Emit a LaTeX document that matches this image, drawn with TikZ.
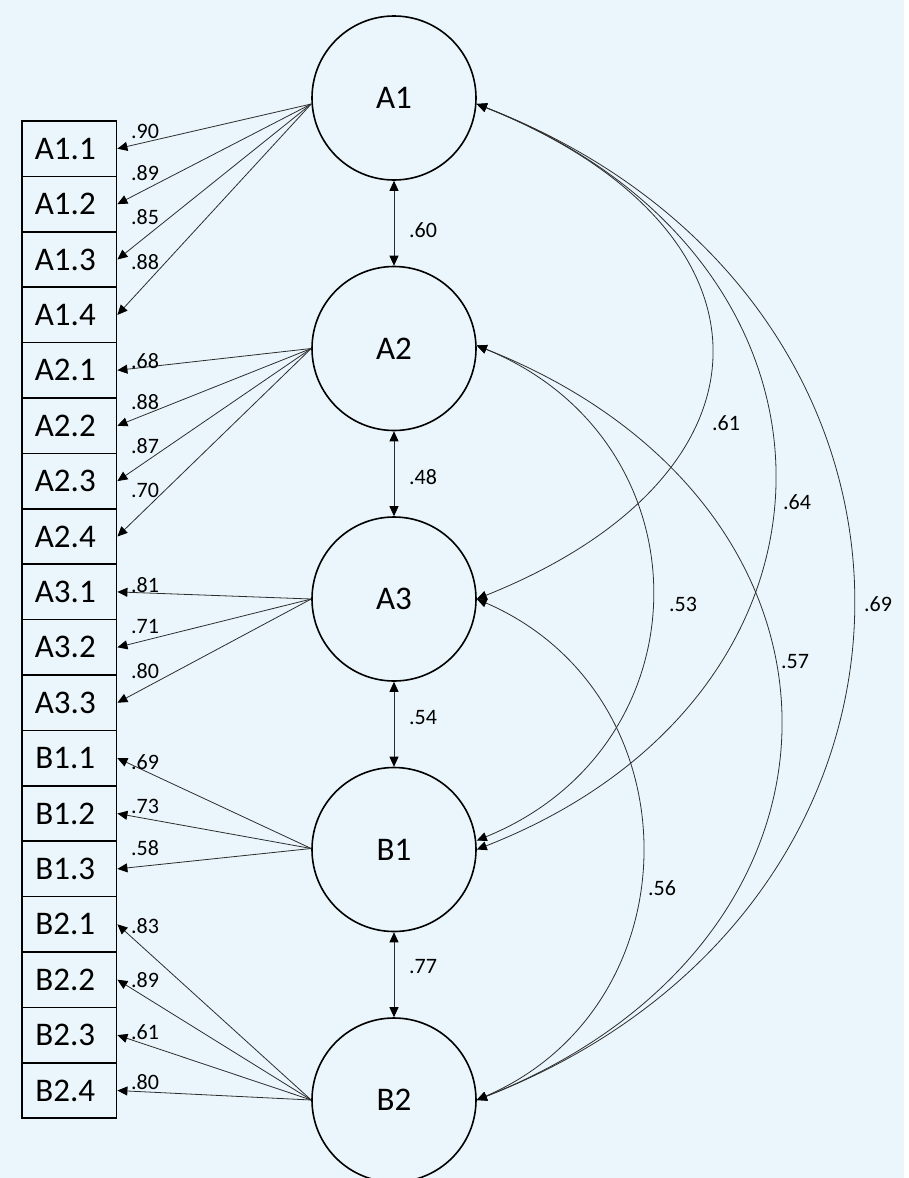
\documentclass[tikz,border=0pt]{standalone}
\usepackage{fontspec}
\setmainfont{Carlito}
\usetikzlibrary{arrows.meta,calc}
\definecolor{bg}{RGB}{234,246,251}
\definecolor{ln}{RGB}{45,45,45}
\begin{document}
\begin{tikzpicture}[x=1pt,y=-1pt,
  lat/.style={circle, draw, line width=1.6pt, minimum size=164pt, inner sep=0pt, font=\fontsize{33}{36}\selectfont},
  ind/.style={rectangle, draw, line width=1.5pt, minimum width=94.7pt, minimum height=55.4pt, inner sep=0pt, font=\fontsize{33}{36}\selectfont},
  tip/.tip={Triangle[length=10pt,width=9pt,color=black]},
  load/.style={draw=ln, line width=0.8pt, -tip},
  corr/.style={draw=ln, line width=0.8pt, tip-tip},
  coef/.style={font=\fontsize{22}{24}\selectfont, inner sep=0pt},
]
\fill[bg] (0,0) rectangle (904,1178);
\useasboundingbox (0,0) rectangle (909,1178);

% latent variables
\node[lat] (A1) at (394,98) {A1};
\node[lat] (A2) at (394,348.5) {A2};
\node[lat] (A3) at (394,599) {A3};
\node[lat] (B1) at (394,849.5) {B1};
\node[lat] (B2) at (394,1100) {B2};

% indicators
\foreach \t [count=\i from 0] in {A1.1,A1.2,A1.3,A1.4,A2.1,A2.2,A2.3,A2.4,A3.1,A3.2,A3.3,B1.1,B1.2,B1.3,B2.1,B2.2,B2.3,B2.4}
  \node[ind] (b\i) at (69.3,{148.7+55.4*\i}) {\t\hspace*{8pt}};

% loading source points
\coordinate (A1w) at ([yshift=-6pt]A1.west);
\coordinate (A2w) at (A2.west);
\coordinate (A3w) at (A3.west);
\coordinate (B1w) at ([yshift=1pt]B1.west);
\coordinate (B2w) at (B2.west);

\foreach \j in {0,...,3} \draw[load] (A1w) -- (b\j.east);
\foreach \j in {4,...,7} \draw[load] (A2w) -- (b\j.east);
\foreach \j in {8,...,10} \draw[load] (A3w) -- (b\j.east);
\foreach \j in {11,...,13} \draw[load] (B1w) -- (b\j.east);
\foreach \j in {14,...,17} \draw[load] (B2w) -- (b\j.east);

% loading labels
\foreach \v/\yy [count=\k from 0] in {.90/131.7,.89/173.3,.85/216.7,.88/261.7,.68/360.7,.88/401.7,.87/446,.70/490,.81/585,.71/626,.80/670.7,.69/761.7,.73/806,.58/848.3,.83/925.7,.89/980,.61/1031.7,.80/1081.7}
  \node[coef] (l\k) at (145,\yy) {\v};

% structural correlations between neighbours
\draw[corr] (A1) -- (A2);
\draw[corr] (A2) -- (A3);
\draw[corr] (A3) -- (B1);
\draw[corr] (B1) -- (B2);
\node[coef, anchor=west] (c12) at (409,230) {.60};
\node[coef, anchor=west] (c23) at (409,477) {.48};
\node[coef, anchor=west] (c34) at (409,718) {.54};
\node[coef, anchor=west] (c45) at (409,967) {.77};

% curved correlations
\coordinate (A1e) at ([yshift=-6pt]A1.east);
\coordinate (A2e) at ([yshift=3pt]A2.east);
\coordinate (A3e) at (A3.east);
\coordinate (B1e1) at ([yshift=9pt]B1.east);
\coordinate (B1e2) at (B1.east);
\coordinate (B2e) at (B2.east);

\draw[corr] (A1e) .. controls +(312,125) and +(312,-125) .. (A3e);
\draw[corr] (A1e) .. controls +(396,155) and +(396,-155) .. (B1e2);
\draw[corr] (A1e) .. controls +(501,195) and +(501,-195) .. (B2e);
\draw[corr] (A2e) .. controls +(233,95) and +(233,-95) .. (B1e1);
\draw[corr] (A2e) .. controls +(404,160) and +(404,-160) .. (B2e);
\draw[corr] (A3e) .. controls +(220,95) and +(220,-95) .. (B2e);

\node[coef] (r61) at (726,423) {.61};
\node[coef] (r64) at (797,502) {.64};
\node[coef] (r69) at (878,604) {.69};
\node[coef] (r53) at (683,604) {.53};
\node[coef] (r57) at (795,662) {.57};
\node[coef] (r56) at (662,888) {.56};
\end{tikzpicture}
\end{document}
